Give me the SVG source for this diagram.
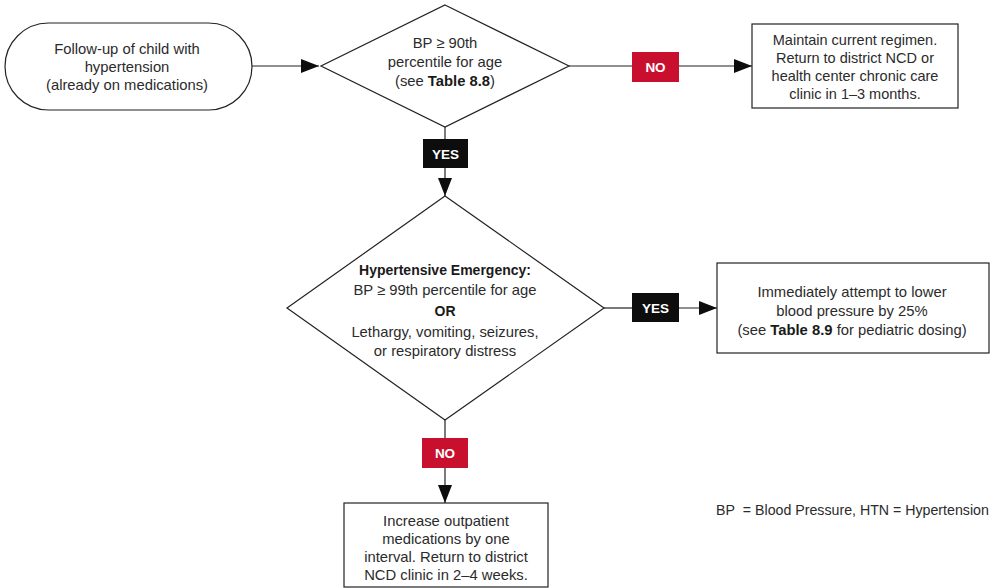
<svg xmlns="http://www.w3.org/2000/svg" width="992" height="588" viewBox="0 0 992 588">
  <style>
    .shape { fill: #ffffff; stroke: #222222; stroke-width: 1.2; }
    .txt { font-family: "Liberation Sans", Arial, sans-serif; font-size: 14.8px; fill: #2b2b2b; text-anchor: middle; }
    .b { font-weight: bold; fill: #1a1a1a; }
    .lbl { font-family: "Liberation Sans", Arial, sans-serif; font-size: 13.5px; font-weight: bold; fill: #ffffff; text-anchor: middle; }
    .yes { fill: #0d0d0d; }
    .no { fill: #c8102e; }
    .wire { fill: none; stroke: #222222; stroke-width: 1.2; }
  </style>
  <defs>
    <marker id="arrow" markerUnits="userSpaceOnUse" markerWidth="18" markerHeight="14" refX="18" refY="7" orient="auto">
      <path d="M0,0 L18,7 L0,14 Z" fill="#0d0d0d"/>
    </marker>
  </defs>
  <rect width="992" height="588" fill="#ffffff"/>

  <!-- connectors -->
  <g id="connectors">
    <line class="wire" x1="252" y1="66" x2="319" y2="66" marker-end="url(#arrow)"/>
    <line class="wire" x1="569" y1="66" x2="632" y2="66"/>
    <line class="wire" x1="679" y1="66" x2="752" y2="66" marker-end="url(#arrow)"/>
    <line class="wire" x1="445" y1="127" x2="445" y2="139"/>
    <line class="wire" x1="445" y1="168" x2="445" y2="196" marker-end="url(#arrow)"/>
    <line class="wire" x1="604" y1="308" x2="632" y2="308"/>
    <line class="wire" x1="679" y1="308" x2="717" y2="308" marker-end="url(#arrow)"/>
    <line class="wire" x1="445" y1="420" x2="445" y2="438"/>
    <line class="wire" x1="445" y1="468" x2="445" y2="503" marker-end="url(#arrow)"/>
    <!-- branch labels -->
    <rect class="no" x="632" y="52" width="47" height="30"/>
    <text class="lbl" x="655.5" y="71.5">NO</text>
    <rect class="yes" x="423" y="139" width="45" height="29"/>
    <text class="lbl" x="445.5" y="158.5">YES</text>
    <rect class="yes" x="632" y="293" width="47" height="29"/>
    <text class="lbl" x="655.5" y="312.5">YES</text>
    <rect class="no" x="422" y="438" width="46" height="30"/>
    <text class="lbl" x="445" y="457.5">NO</text>
  </g>

  <!-- start -->
  <g id="start">
    <rect class="shape" x="5" y="23" width="247" height="87" rx="43.5" ry="43.5"/>
    <text class="txt" x="127" y="54">Follow-up of child with</text>
    <text class="txt" x="127" y="72">hypertension</text>
    <text class="txt" x="127" y="90">(already on medications)</text>
  </g>

  <!-- decision: BP at or above 90th percentile -->
  <g id="check90">
    <polygon class="shape" points="445,5 569,66 445,127 321,66"/>
    <text class="txt" x="445" y="48">BP ≥ 90th</text>
    <text class="txt" x="445" y="67">percentile for age</text>
    <text class="txt" x="445" y="86">(see <tspan class="b">Table 8.8</tspan>)</text>
  </g>

  <!-- maintain regimen -->
  <g id="maintain">
    <rect class="shape" x="752" y="24" width="206" height="84"/>
    <text class="txt" x="855" y="45" style="font-size:14.5px">Maintain current regimen.</text>
    <text class="txt" x="855" y="63" style="font-size:14.5px">Return to district NCD or</text>
    <text class="txt" x="855" y="81" style="font-size:14.5px">health center chronic care</text>
    <text class="txt" x="855" y="99" style="font-size:14.5px">clinic in 1–3 months.</text>
  </g>

  <!-- decision: hypertensive emergency -->
  <g id="emergency">
    <polygon class="shape" points="445,196 604,308 445,420 287,308"/>
    <text class="txt b" x="445" y="275" style="font-size:14px">Hypertensive Emergency:</text>
    <text class="txt" x="445" y="295">BP ≥ 99th percentile for age</text>
    <text class="txt b" x="445" y="316" style="font-size:14px">OR</text>
    <text class="txt" x="445" y="337">Lethargy, vomiting, seizures,</text>
    <text class="txt" x="445" y="356">or respiratory distress</text>
  </g>

  <!-- lower blood pressure -->
  <g id="lower">
    <rect class="shape" x="717" y="263" width="272" height="90"/>
    <text class="txt" x="852" y="297">Immediately attempt to lower</text>
    <text class="txt" x="852" y="316">blood pressure by 25%</text>
    <text class="txt" x="852" y="335">(see <tspan class="b">Table 8.9</tspan> for pediatric dosing)</text>
  </g>

  <!-- increase medications -->
  <g id="increase">
    <rect class="shape" x="344" y="503" width="204" height="84"/>
    <text class="txt" x="446" y="526">Increase outpatient</text>
    <text class="txt" x="446" y="544">medications by one</text>
    <text class="txt" x="446" y="562">interval. Return to district</text>
    <text class="txt" x="446" y="580">NCD clinic in 2–4 weeks.</text>
  </g>

  <!-- abbreviations -->
  <g id="legend">
    <text class="txt" x="716" y="515" style="text-anchor:start; font-size:14.2px">BP&#160; = Blood Pressure, HTN = Hypertension</text>
  </g>
</svg>
